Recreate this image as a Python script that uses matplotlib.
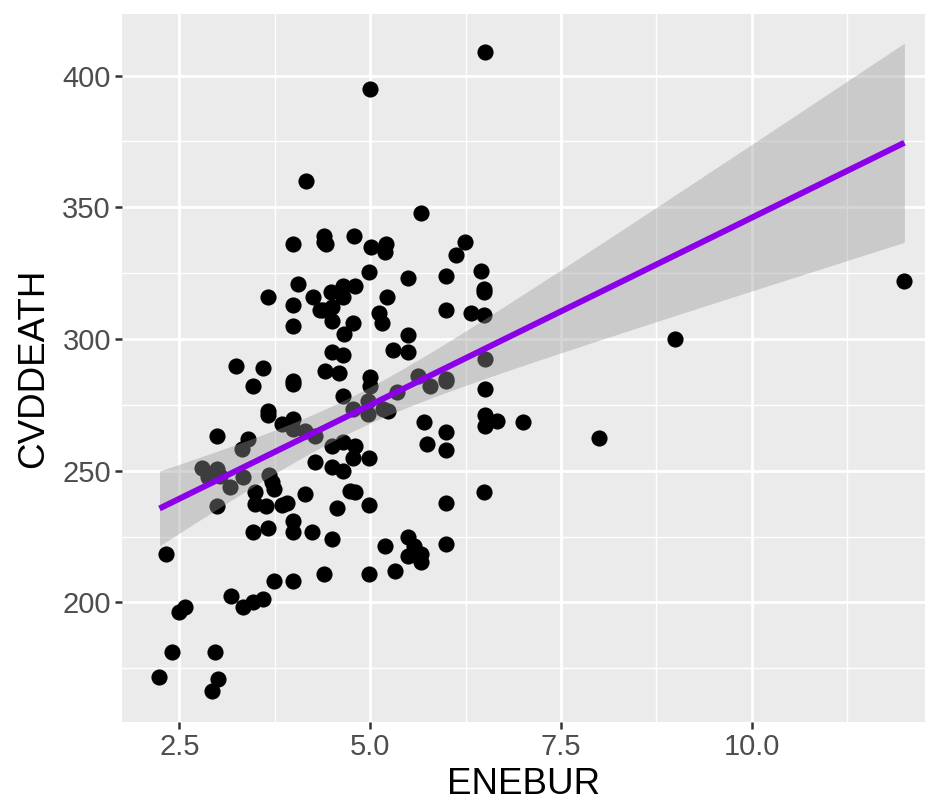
import numpy as np
import matplotlib
matplotlib.use("Agg")
import matplotlib.pyplot as plt

# ENEBUR (x) vs CVDDEATH (y)
enebur = [
    6.5, 5.0, 4.16, 5.66, 4.4, 4.4, 4.42, 4.79, 5.01, 5.21, 5.2, 6.24, 6.13, 3.99,
    4.05, 3.66, 3.99, 4.25, 4.34, 3.99, 4.99, 5.49, 5.99, 6.45, 6.49, 6.49, 4.49,
    4.65, 4.8, 4.65, 4.38, 4.5, 4.5, 4.78, 4.66, 5.12, 5.16, 5.22, 5.99, 6.32, 6.49,
    5.49, 4.5, 4.64, 5.3, 5.49, 6.5, 9.0, 12.0, 8.0, 7.0, 6.5, 6.5, 6.5, 6.66,
    4.41, 4.59, 5.0, 5.0, 4.65, 4.97, 4.78, 4.97, 5.17, 5.24, 5.35, 5.63, 5.79,
    5.99, 5.99, 5.7, 5.99, 5.74, 5.99, 4.14, 4.28, 4.5, 4.64, 4.8, 4.78, 4.99,
    4.28, 4.5, 4.64, 4.74, 4.8, 4.14, 4.56, 4.99, 5.99, 6.49, 4.24, 4.5, 5.49,
    5.2, 5.57, 5.99, 5.49, 5.66, 5.66, 4.39, 4.99, 5.33, 3.24, 3.59, 3.46, 3.99,
    3.99, 3.66, 3.66, 3.84, 3.99, 3.99, 2.99, 3.4, 3.32, 2.8, 2.99, 3.03, 2.88,
    3.16, 3.33, 3.68, 3.72, 3.74, 3.49, 2.99, 3.49, 3.64, 3.84, 3.91, 3.99, 3.99,
    3.46, 3.66, 2.33, 2.49, 2.58, 3.18, 3.33, 3.46, 3.59, 3.74, 3.99, 2.4, 2.97,
    2.24, 3.0, 2.93,
]
cvddeath = [
    409, 395, 360, 348, 339, 337, 336, 339, 335, 336, 333, 337, 332, 336,
    321, 316, 313, 316, 311, 305, 325.5, 323, 324, 326, 319, 318, 318,
    320, 320, 316, 311, 312, 307, 306, 302, 310, 306, 316, 311, 310, 309,
    301.5, 295, 294, 296, 295, 292.5, 300, 322, 262.5, 268.5, 281, 271, 267, 269,
    288, 287, 285.6, 282, 278.4, 276.5, 273.5, 271.6, 273.5, 272.7, 280, 286, 282,
    285, 284, 268.5, 264.7, 260, 258, 265, 263, 259.4, 261, 259.4, 255, 254.8,
    253.3, 251.4, 250, 242.3, 242, 241, 235.8, 237, 237.8, 242, 226.7, 224, 224.8,
    221.4, 221.4, 222, 217.6, 218.4, 215.3, 210.8, 210.8, 212, 289.8, 289, 282, 284,
    283, 272.7, 271, 267.8, 269.7, 266, 263, 262, 258.3, 251, 250.7, 248, 247.6,
    243.8, 247.6, 248.4, 245.7, 243, 242, 236.6, 237.4, 236.6, 237, 237.8, 231, 226.7,
    226.7, 228.3, 218.5, 196.4, 198.3, 202.4, 198.3, 200.2, 201.3, 208.2, 208.2, 181, 181,
    171.7, 171, 166.4,
]
x_ticks = [2.5, 5.0, 7.5, 10.0]
y_ticks = [200, 250, 300, 350, 400]

x = np.array(enebur)
y = np.array(cvddeath)

# linear fit + 95% confidence band (like geom_smooth(method="lm"))
n = len(x)
b1, b0 = np.polyfit(x, y, 1)
resid = y - (b0 + b1 * x)
s = np.sqrt(np.sum(resid ** 2) / (n - 2))
sxx = np.sum((x - x.mean()) ** 2)
t_crit = 1.976
xs = np.linspace(x.min(), x.max(), 80)
fit = b0 + b1 * xs
se = s * np.sqrt(1 / n + (xs - x.mean()) ** 2 / sxx)

plt.rcParams['font.family'] = ['Liberation Sans', 'DejaVu Sans']

fig = plt.figure(figsize=(9.25, 8.07), dpi=100)
ax = fig.add_axes([0.132, 0.105, 0.868, 0.878])
ax.set_facecolor('#EBEBEB')

ax.scatter(x, y, s=135, color='black', linewidths=0, zorder=3)
ax.fill_between(xs, fit - t_crit * se, fit + t_crit * se, color='#999999', alpha=0.4,
                linewidth=0, zorder=4)
ax.plot(xs, fit, color='#8B00E8', linewidth=4.3, zorder=5, solid_capstyle='butt')

ax.set_xlim(1.75, 12.27)
ax.set_ylim(154.5, 423.5)
ax.set_xticks(x_ticks)
ax.set_xticklabels([f"{v:.1f}" for v in x_ticks])
ax.set_yticks(y_ticks)
ax.set_xticks([3.75, 6.25, 8.75, 11.25], minor=True)
ax.set_yticks([175, 225, 275, 325, 375], minor=True)

ax.grid(which='major', color='white', linewidth=2.0)
ax.grid(which='minor', color='white', linewidth=1.0)
ax.set_axisbelow(True)
for sp in ax.spines.values():
    sp.set_visible(False)

ax.tick_params(which='major', length=5, width=1.8, color='#333333',
               labelsize=21, labelcolor='#4D4D4D', pad=3)
ax.tick_params(which='minor', length=0)

ax.set_xlabel("ENEBUR", fontsize=26.5, color='black', labelpad=4)
ax.set_ylabel("CVDDEATH", fontsize=26.5, color='black', labelpad=8)

fig.savefig("out.png", dpi=100)
